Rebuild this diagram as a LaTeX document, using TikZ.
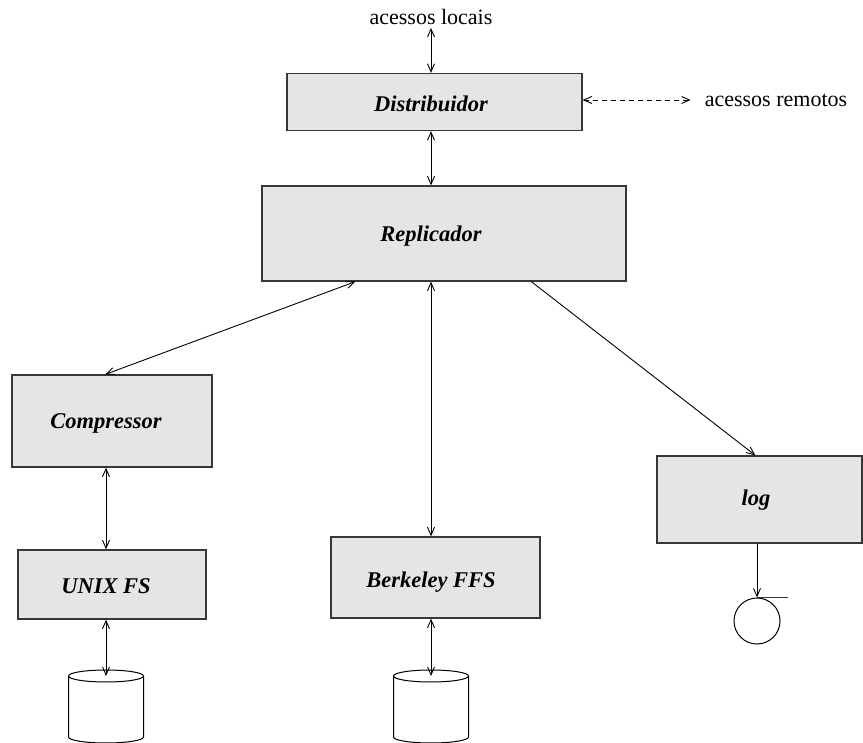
\documentclass[tikz,border=0pt]{standalone}
\usepackage{fontspec}
\setmainfont{Liberation Serif}
\usetikzlibrary{arrows.meta}
\definecolor{boxGray}{RGB}{229,229,229}
\definecolor{boxEdge}{RGB}{55,55,55}

\begin{document}
\begin{tikzpicture}[
    x=1pt, y=-1pt,
    font=\fontsize{22}{26}\selectfont,
    module/.style={rectangle, draw=boxEdge, line width=1.3pt, fill=boxGray, inner sep=0pt},
    tag/.style={inner sep=0pt, font=\fontsize{22.5}{26}\selectfont\bfseries\itshape},
    note/.style={inner sep=0pt},
    link/.style={line width=0.9pt, -{Straight Barb[length=8pt,width=7pt]}},
    biLink/.style={line width=0.9pt, {Straight Barb[length=8pt,width=7pt]}-{Straight Barb[length=8pt,width=7pt]}}
]
  \useasboundingbox (0,0) rectangle (863,743);

  % boxes
  \node[module, minimum width=295pt, minimum height=57pt] (dist) at (434.5,102) {};
  \node[tag] (distLabel) at (431,104) {Distribuidor};
  \node[module, minimum width=364pt, minimum height=95pt] (rep) at (444,233.5) {};
  \node[tag] (repLabel) at (431,236) {Replicador};
  \node[module, minimum width=200pt, minimum height=92pt] (comp) at (112,421) {};
  \node[tag] (compLabel) at (106,423) {Compressor};
  \node[module, minimum width=188pt, minimum height=69pt] (unix) at (112,584.5) {};
  \node[tag] (unixLabel) at (106,586) {UNIX FS};
  \node[module, minimum width=209pt, minimum height=81pt] (berk) at (435.5,577.5) {};
  \node[tag] (berkLabel) at (431,582) {Berkeley FFS};
  \node[module, minimum width=205pt, minimum height=87pt] (log) at (759.5,499.5) {};
  \node[tag] (logLabel) at (756,500) {log};

  % outside texts
  \node[note] (locais) at (431,17) {acessos locais};
  \node[note] (remotos) at (776,100) {acessos remotos};

  % disks and tape
  \foreach \cx/\nm in {106/diskA, 431/diskB}{
    \draw[line width=1pt, fill=white] (\cx-37.5,676) -- (\cx-37.5,737)
      arc[start angle=180, end angle=0, x radius=37.5, y radius=6] -- (\cx+37.5,676);
    \draw[line width=1pt] (\cx,676) ellipse [x radius=37.5, y radius=6];
    \coordinate (\nm) at (\cx,676);
  }
  \node[circle, draw, line width=1pt, minimum size=46pt, inner sep=0pt] (tape) at (757,621) {};
  \draw[line width=1pt, boxEdge] (tape.north) -- ++(31,0);

  % connectors
  \draw[biLink, shorten <=3pt] (locais.south) -- (locais.south |- dist.north);
  \draw[biLink] (locais |- dist.south) -- (locais |- rep.north);
  \draw[biLink, dash pattern=on 5pt off 4pt, shorten >=14pt] (dist.east |- remotos) -- (remotos.west);
  \draw[biLink] ([xshift=94pt]rep.south west) -- ([xshift=94pt]comp.north west);
  \draw[biLink] (repLabel |- rep.south) -- (repLabel |- berk.north);
  \draw[link] ([xshift=270pt]rep.south west) -- ([xshift=99pt]log.north west);
  \draw[biLink] (compLabel |- comp.south) -- (compLabel |- unix.north);
  \draw[biLink] (unixLabel |- unix.south) -- (diskA);
  \draw[biLink] (repLabel |- berk.south) -- (diskB);
  \draw[link] (tape |- log.south) -- (tape.north);
\end{tikzpicture}
\end{document}
